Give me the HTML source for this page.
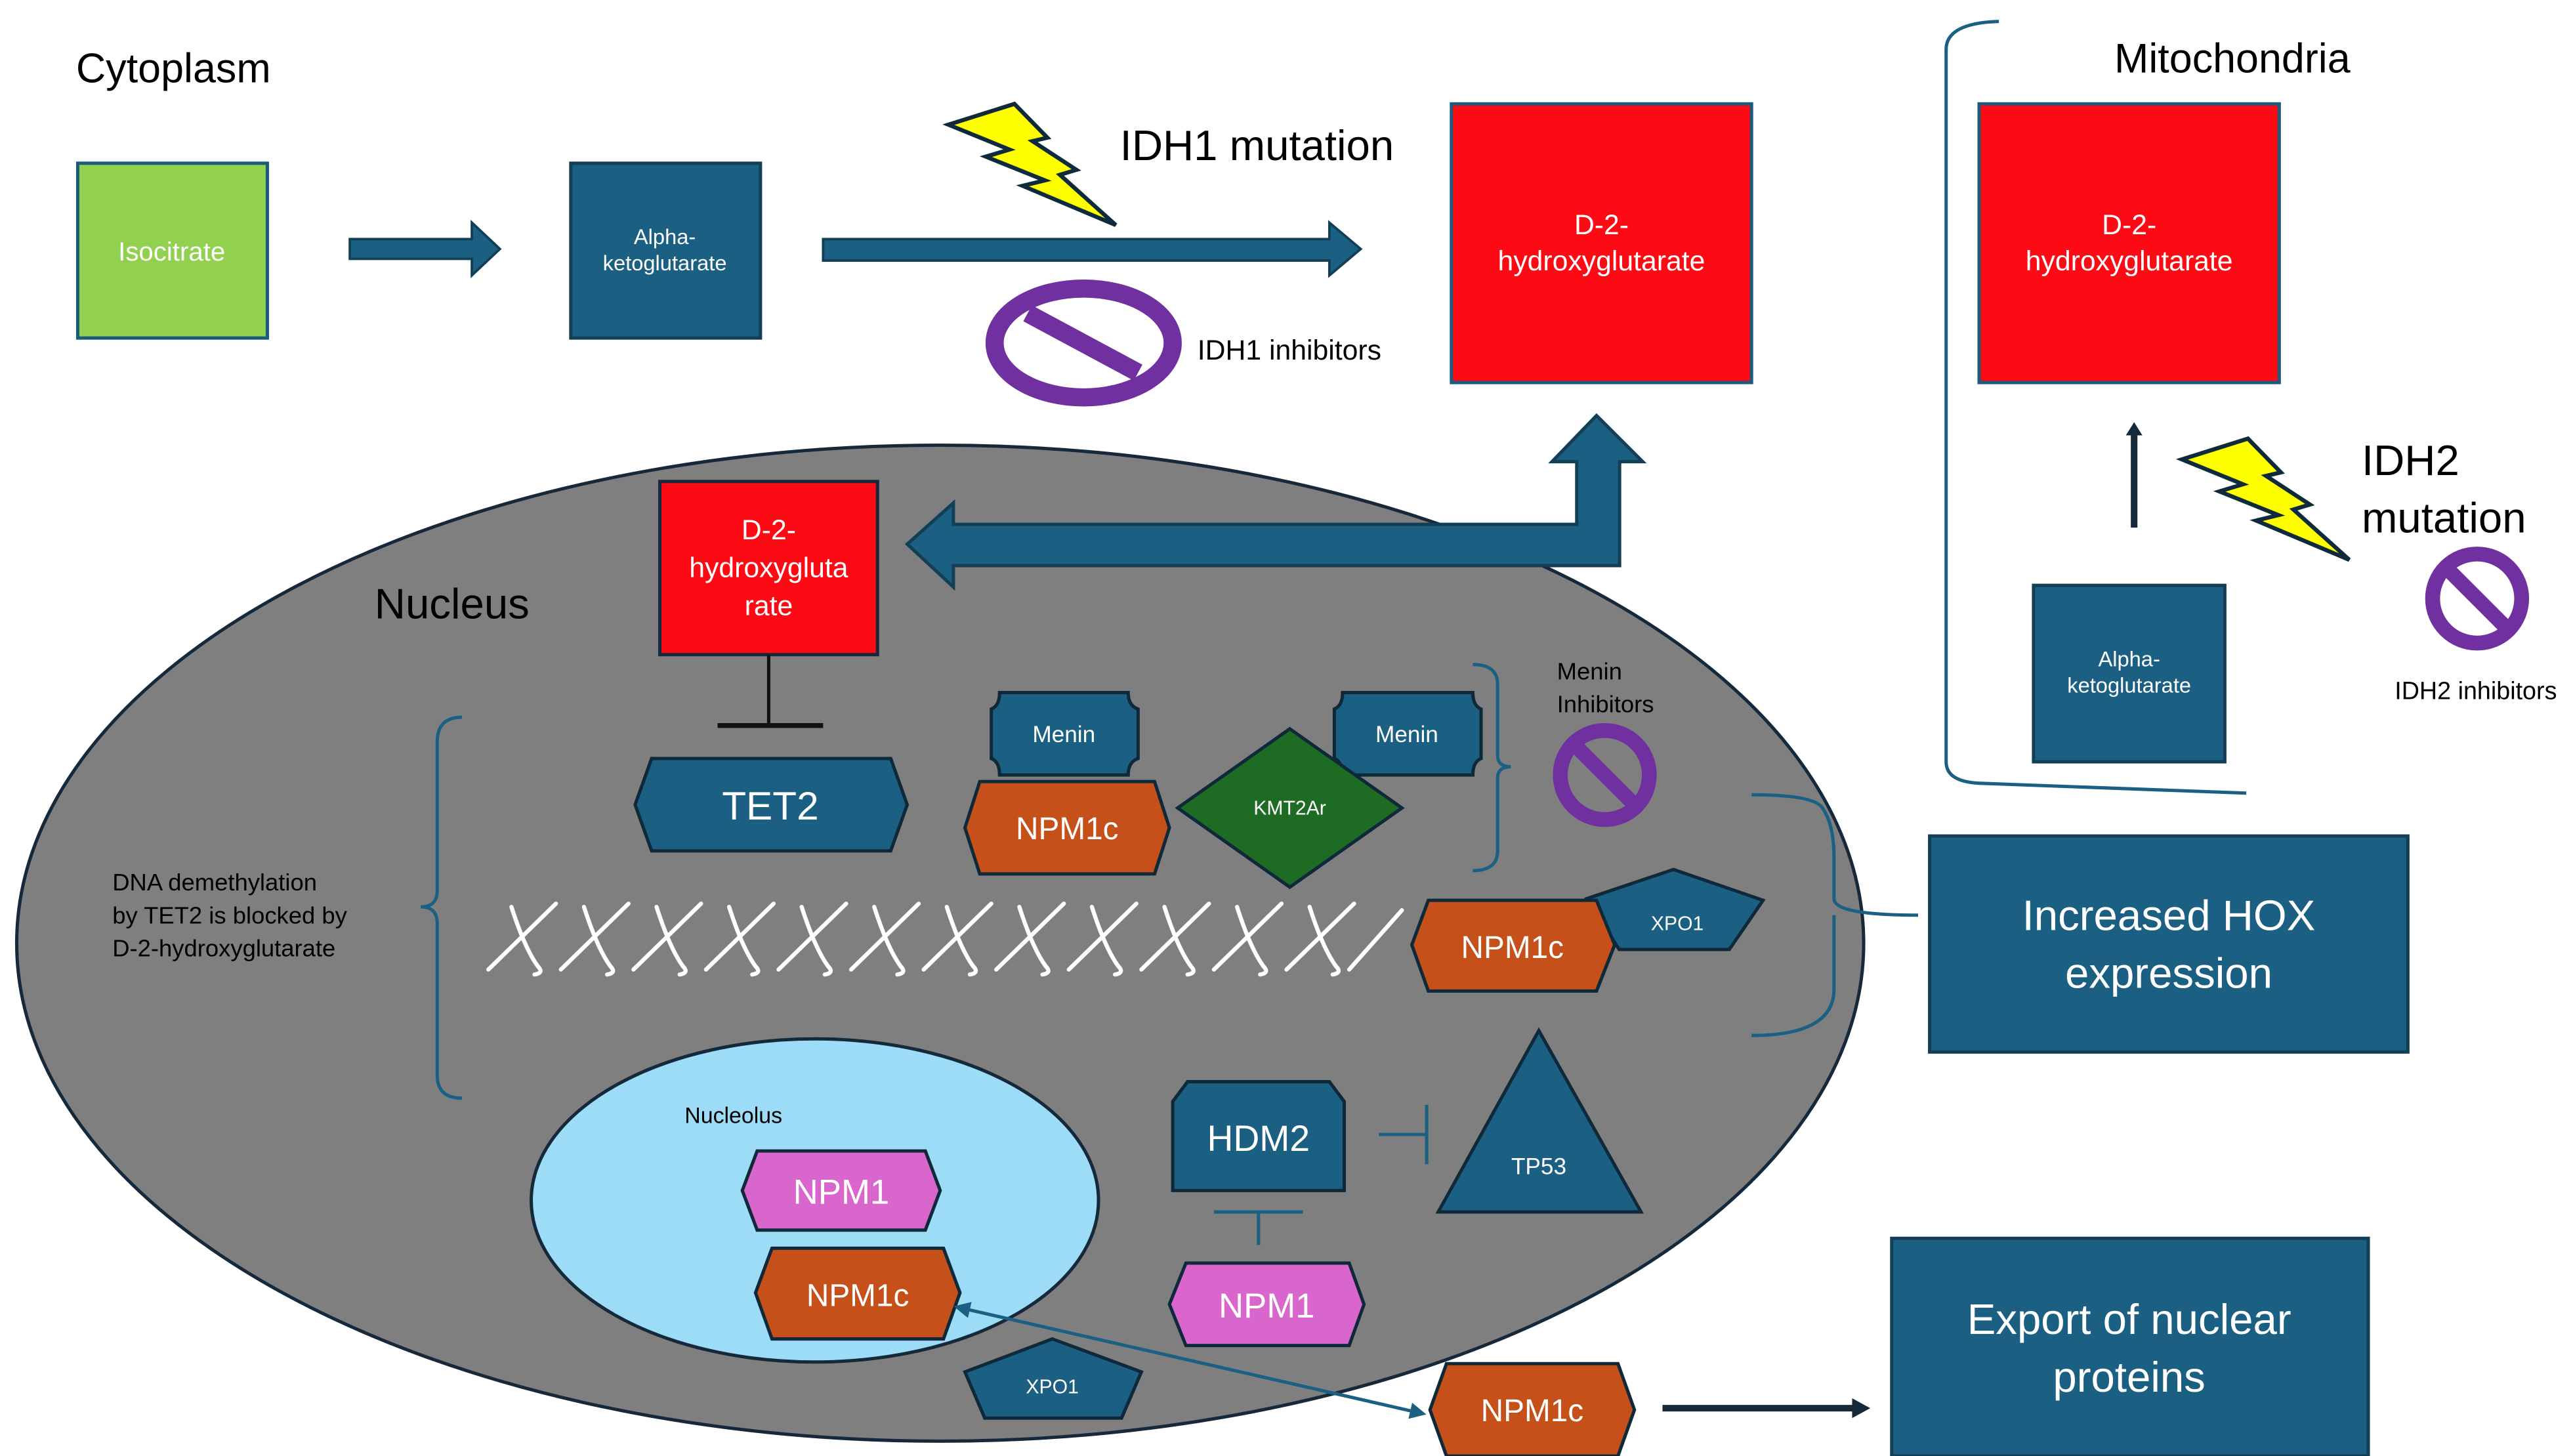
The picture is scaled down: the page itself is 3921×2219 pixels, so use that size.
<!DOCTYPE html>
<html><head><meta charset="utf-8"><style>
html,body{margin:0;padding:0;background:#fff;}
svg{display:block;}
text{font-family:"Liberation Sans","DejaVu Sans",sans-serif;}
</style></head><body>
<svg width="3921" height="2219" viewBox="0 0 1560 883" xmlns="http://www.w3.org/2000/svg">
<defs>
<marker id="ahs" markerWidth="10" markerHeight="10" refX="2" refY="5" orient="auto-start-reverse" markerUnits="userSpaceOnUse"><path d="M0,0 L10,5 L0,10 Z" fill="#1b6082"/></marker>
<g id="bolt"><path d="M575,75.6 L615,63 L635,83.5 L626,85.6 L652.6,103 L642.6,106 L676.5,136.5 L620,112.7 L633.5,109.4 L597.7,95 L612,90.7 Z" fill="#ffff00" stroke="#0f2a3a" stroke-width="2.5" stroke-linejoin="miter"/></g>
</defs>
<rect width="1560" height="883" fill="#fff"/>

<ellipse cx="570" cy="572" rx="560" ry="302" fill="#7f7f7f" stroke="#16293a" stroke-width="2"/>
<ellipse cx="494" cy="728" rx="172" ry="98" fill="#9ddcf6" stroke="#16293a" stroke-width="2"/>

<text x="46" y="50" font-size="25" fill="#000">Cytoplasm</text>
<rect x="47" y="99" width="115" height="106" fill="#92d050" stroke="#1b5b7c" stroke-width="2"/>
<text x="104" y="158" font-size="16" fill="#fff" text-anchor="middle">Isocitrate</text>
<path d="M212,145 L286,145 L286,135 L303,151 L286,167 L286,157 L212,157 Z" fill="#1b6082" stroke="#123f56" stroke-width="1.5"/>
<rect x="346" y="99" width="115" height="106" fill="#1b6082" stroke="#123f56" stroke-width="2"/>
<text x="403" y="148" font-size="13" fill="#fff" text-anchor="middle">Alpha-</text>
<text x="403" y="164" font-size="13" fill="#fff" text-anchor="middle">ketoglutarate</text>
<path d="M499,145 L806,145 L806,135 L825,151 L806,167 L806,158 L499,158 Z" fill="#1b6082" stroke="#123f56" stroke-width="1.5"/>
<use href="#bolt"/>
<text x="679" y="97" font-size="26" fill="#000">IDH1 mutation</text>
<ellipse cx="657" cy="208" rx="54" ry="33" fill="#fff" stroke="#7030a0" stroke-width="11"/>
<line x1="623" y1="190" x2="690" y2="226" stroke="#7030a0" stroke-width="11"/>
<text x="726" y="218" font-size="17" fill="#000">IDH1 inhibitors</text>
<rect x="880" y="63" width="182" height="169" fill="#fe0a14" stroke="#1b5b7c" stroke-width="2"/>
<text x="971" y="142" font-size="17" fill="#fff" text-anchor="middle">D-2-</text>
<text x="971" y="164" font-size="17" fill="#fff" text-anchor="middle">hydroxyglutarate</text>

<path d="M1212,13 Q1180,14 1180,30 L1180,462 Q1180,474 1200,475 L1362,481" fill="none" stroke="#1b6082" stroke-width="2"/>
<text x="1282" y="44" font-size="25" fill="#000">Mitochondria</text>
<rect x="1200" y="63" width="182" height="169" fill="#fe0a14" stroke="#1b5b7c" stroke-width="2"/>
<text x="1291" y="142" font-size="17" fill="#fff" text-anchor="middle">D-2-</text>
<text x="1291" y="164" font-size="17" fill="#fff" text-anchor="middle">hydroxyglutarate</text>
<line x1="1294" y1="320" x2="1294" y2="264" stroke="#16293a" stroke-width="4"/>
<path d="M1289,264 L1294,256 L1299,264 Z" fill="#16293a"/>
<g transform="translate(748,203)"><use href="#bolt"/></g>
<text x="1432" y="288" font-size="26" fill="#000">IDH2</text>
<text x="1432" y="323" font-size="26" fill="#000">mutation</text>
<circle cx="1502" cy="363" r="27" fill="#fff" stroke="#7030a0" stroke-width="9"/>
<line x1="1484" y1="345" x2="1520" y2="381" stroke="#7030a0" stroke-width="9"/>
<text x="1452" y="424" font-size="15" fill="#000">IDH2 inhibitors</text>
<rect x="1233" y="355" width="116" height="107" fill="#1b6082" stroke="#123f56" stroke-width="2"/>
<text x="1291" y="404" font-size="13" fill="#fff" text-anchor="middle">Alpha-</text>
<text x="1291" y="420" font-size="13" fill="#fff" text-anchor="middle">ketoglutarate</text>

<path d="M550,330 L578,305 L578,318 L956,318 L956,280 L941,280 L968,252 L996,280 L982,280 L982,343 L578,343 L578,356 Z" fill="#1b6082" stroke="#123f56" stroke-width="2"/>
<rect x="400" y="292" width="132" height="105" fill="#fe0a14" stroke="#16293a" stroke-width="2"/>
<text x="466" y="327" font-size="17" fill="#fff" text-anchor="middle">D-2-</text>
<text x="466" y="350" font-size="17" fill="#fff" text-anchor="middle">hydroxygluta</text>
<text x="466" y="373" font-size="17" fill="#fff" text-anchor="middle">rate</text>
<text x="227" y="375" font-size="26" fill="#000">Nucleus</text>
<line x1="466" y1="397" x2="466" y2="440" stroke="#111" stroke-width="2"/>
<line x1="435" y1="440" x2="499" y2="440" stroke="#111" stroke-width="3"/>

<path d="M395,460 L540,460 L550,488 L540,516 L395,516 L385,488 Z" fill="#1b6082" stroke="#10293a" stroke-width="2"/>
<text x="467" y="497" font-size="24" fill="#fff" text-anchor="middle">TET2</text>

<path d="M280,435 Q265,435 265,450 L265,540 Q265,550 255,550 Q265,550 265,560 L265,652 Q265,666 280,666" fill="none" stroke="#1b6082" stroke-width="2"/>
<text x="68" y="540" font-size="14.5" fill="#000">DNA demethylation</text>
<text x="68" y="560" font-size="14.5" fill="#000">by TET2 is blocked by</text>
<text x="68" y="580" font-size="14.5" fill="#000">D-2-hydroxyglutarate</text>

<path d="M606,420 L684,420 Q684,428 690,430 L690,460 Q684,462 684,470 L606,470 Q606,462 601,460 L601,430 Q606,428 606,420 Z" fill="#1b6082" stroke="#10293a" stroke-width="2"/>
<text x="645" y="450" font-size="14" fill="#fff" text-anchor="middle">Menin</text>
<path d="M594,474 L700,474 L709,502 L700,530 L594,530 L585,502 Z" fill="#c55019" stroke="#10293a" stroke-width="2"/>
<text x="647" y="509" font-size="19" fill="#fff" text-anchor="middle">NPM1c</text>
<path d="M814,420 L893,420 Q893,428 898,430 L898,460 Q893,462 893,470 L814,470 Q814,462 809,460 L809,430 Q814,428 814,420 Z" fill="#1b6082" stroke="#10293a" stroke-width="2"/>
<text x="853" y="450" font-size="14" fill="#fff" text-anchor="middle">Menin</text>
<path d="M782,442 L850,490 L782,538 L714,490 Z" fill="#1e6b23" stroke="#10293a" stroke-width="2"/>
<text x="782" y="494" font-size="12" fill="#fff" text-anchor="middle">KMT2Ar</text>

<path d="M893,403 Q908,403 908,415 L908,458 Q908,465 916,465 Q908,465 908,472 L908,516 Q908,528 893,528" fill="none" stroke="#1b6082" stroke-width="2"/>
<text x="944" y="412" font-size="14.5" fill="#000">Menin</text>
<text x="944" y="432" font-size="14.5" fill="#000">Inhibitors</text>
<circle cx="973" cy="470" r="27" fill="#7f7f7f" stroke="#7030a0" stroke-width="9"/>
<line x1="955" y1="452" x2="991" y2="488" stroke="#7030a0" stroke-width="9"/>

<g fill="none" stroke="#fff" stroke-width="2.5" stroke-linecap="round">
<path d="M296,588 L337,548 M310,550 Q318,575 326,586 Q330,590 324,591"/>
<path d="M340,588 L381,548 M354,550 Q362,575 370,586 Q374,590 368,591"/>
<path d="M384,588 L425,548 M398,550 Q406,575 414,586 Q418,590 412,591"/>
<path d="M428,588 L469,548 M442,550 Q450,575 458,586 Q462,590 456,591"/>
<path d="M472,588 L513,548 M486,550 Q494,575 502,586 Q506,590 500,591"/>
<path d="M516,588 L557,548 M530,550 Q538,575 546,586 Q550,590 544,591"/>
<path d="M560,588 L601,548 M574,550 Q582,575 590,586 Q594,590 588,591"/>
<path d="M604,588 L645,548 M618,550 Q626,575 634,586 Q638,590 632,591"/>
<path d="M648,588 L689,548 M662,550 Q670,575 678,586 Q682,590 676,591"/>
<path d="M692,588 L733,548 M706,550 Q714,575 722,586 Q726,590 720,591"/>
<path d="M736,588 L777,548 M750,550 Q758,575 766,586 Q770,590 764,591"/>
<path d="M780,588 L821,548 M794,550 Q802,575 810,586 Q814,590 808,591"/>
<path d="M818,588 L850,552"/>
</g>

<path d="M1014.7,527.3 L1069,546 L1048.5,575.8 L981.7,575.8 L962,545 Z" fill="#1b6082" stroke="#10293a" stroke-width="2"/>
<path d="M866,546 L968,546 L979,573 L968,601 L866,601 L856,573 Z" fill="#c55019" stroke="#10293a" stroke-width="2"/>
<text x="917" y="581" font-size="19" fill="#fff" text-anchor="middle">NPM1c</text>
<text x="1017" y="564" font-size="12" fill="#fff" text-anchor="middle">XPO1</text>

<path d="M1062,482 Q1100,482 1105,490 Q1112,500 1112,520 L1112,545 Q1112,555 1163,555 M1112,555 L1112,600 Q1112,628 1062,628" fill="none" stroke="#1b6082" stroke-width="2"/>
<rect x="1170" y="507" width="290" height="131" fill="#1b6082" stroke="#123f56" stroke-width="2"/>
<text x="1315" y="564" font-size="26" fill="#fff" text-anchor="middle">Increased HOX</text>
<text x="1315" y="599" font-size="26" fill="#fff" text-anchor="middle">expression</text>

<path d="M720,656 L806,656 L815,668 L815,722 L711,722 L711,668 Z" fill="#1b6082" stroke="#10293a" stroke-width="2"/>
<text x="763" y="698" font-size="22" fill="#fff" text-anchor="middle">HDM2</text>
<line x1="836" y1="688" x2="865" y2="688" stroke="#1b6082" stroke-width="2"/>
<line x1="865" y1="670" x2="865" y2="706" stroke="#1b6082" stroke-width="2"/>
<path d="M933,625 L995,735 L872,735 Z" fill="#1b6082" stroke="#10293a" stroke-width="2"/>
<text x="933" y="712" font-size="14" fill="#fff" text-anchor="middle">TP53</text>
<line x1="736" y1="735" x2="790" y2="735" stroke="#1b6082" stroke-width="2"/>
<line x1="763" y1="735" x2="763" y2="755" stroke="#1b6082" stroke-width="2"/>
<path d="M719,766 L818,766 L827,791 L818,816 L719,816 L709,791 Z" fill="#d966cc" stroke="#10293a" stroke-width="2"/>
<text x="768" y="799" font-size="21" fill="#fff" text-anchor="middle">NPM1</text>

<text x="415" y="681" font-size="13.5" fill="#000">Nucleolus</text>
<path d="M459,698 L561,698 L570,722 L561,746 L459,746 L450,722 Z" fill="#d966cc" stroke="#10293a" stroke-width="2"/>
<text x="510" y="730" font-size="21" fill="#fff" text-anchor="middle">NPM1</text>
<path d="M468,757 L572,757 L582,784 L572,812 L468,812 L458,784 Z" fill="#c55019" stroke="#10293a" stroke-width="2"/>
<text x="520" y="792" font-size="19" fill="#fff" text-anchor="middle">NPM1c</text>
<path d="M638,812 L692,832 L680,860 L597,860 L585,832 Z" fill="#1b6082" stroke="#10293a" stroke-width="2"/>
<text x="638" y="845" font-size="12" fill="#fff" text-anchor="middle">XPO1</text>

<line x1="586" y1="794" x2="857" y2="856" stroke="#1b6082" stroke-width="2" marker-start="url(#ahs)" marker-end="url(#ahs)"/>

<path d="M877,827 L981,827 L991,855 L981,883 L877,883 L867,855 Z" fill="#c55019" stroke="#10293a" stroke-width="2"/>
<text x="929" y="862" font-size="19" fill="#fff" text-anchor="middle">NPM1c</text>
<line x1="1008" y1="854" x2="1124" y2="854" stroke="#16293a" stroke-width="4"/>
<path d="M1123,848 L1134,854 L1123,860 Z" fill="#16293a"/>
<rect x="1147" y="751" width="289" height="132" fill="#1b6082" stroke="#123f56" stroke-width="2"/>
<text x="1291" y="809" font-size="26" fill="#fff" text-anchor="middle">Export of nuclear</text>
<text x="1291" y="844" font-size="26" fill="#fff" text-anchor="middle">proteins</text>
</svg>
</body></html>
